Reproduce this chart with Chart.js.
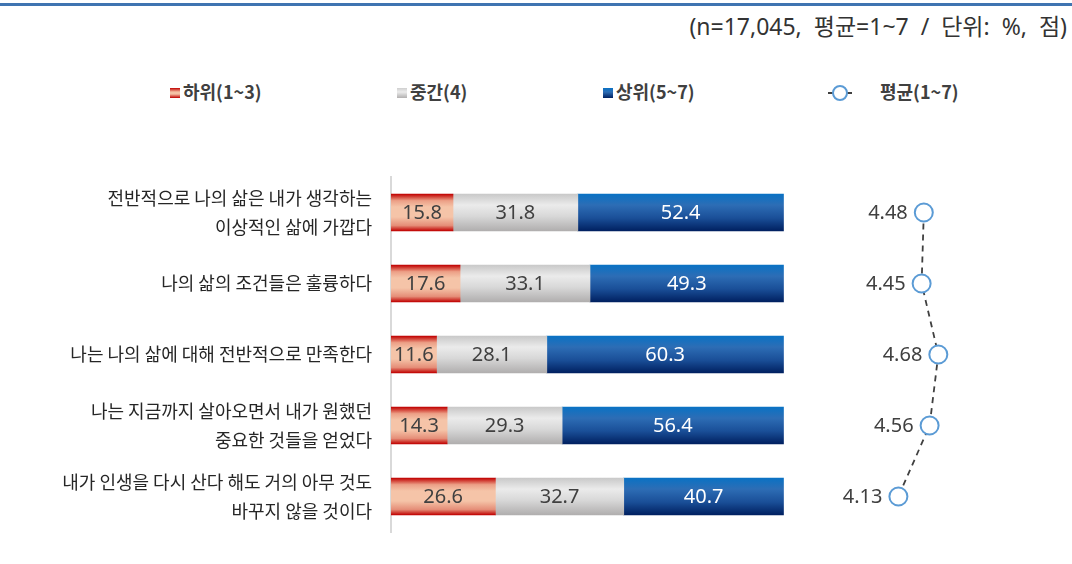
<!DOCTYPE html>
<html>
<head>
<meta charset="utf-8">
<script src="https://cdn.jsdelivr.net/npm/chart.js@4/dist/chart.umd.min.js"></script>
<style>
  body { margin:0; background:#fff; font-family:"Noto Sans CJK KR","Noto Sans",sans-serif; }
  #wrap { position:relative; width:1072px; height:564px; }
  #topline { position:absolute; left:0; top:3px; width:1072px; height:3px; background:#3f74b1; }
  #note { position:absolute; right:5px; top:9px; font-size:23px; line-height:34px; color:#333333; white-space:pre; word-spacing:6px;
          font-family:"Noto Sans","Noto Sans CJK KR",sans-serif; }
  .lg { position:absolute; top:78px; font-size:18px; font-weight:700; color:#404040; white-space:nowrap; }
  .sw { display:inline-block; width:10px; height:10px; margin-right:3px; vertical-align:1px; }
  canvas { position:absolute; left:0; top:0; }
</style>
</head>
<body>
<div id="wrap">
  <div id="topline"></div>
  <div id="note">(n=17,045, 평균=1~7 / 단위: %, 점)</div>
  <div class="lg" style="left:170px"><span class="sw" style="background:linear-gradient(#c00000,#f4c2a6 40%,#f4c2a6 60%,#c00000)"></span>하위(1~3)</div>
  <div class="lg" style="left:397px"><span class="sw" style="background:linear-gradient(#cfcfcf,#ececec 40%,#b2b0b0)"></span>중간(4)</div>
  <div class="lg" style="left:603px"><span class="sw" style="background:linear-gradient(#0a72c4,#2d6db5 40%,#002060)"></span>상위(5~7)</div>
  <div class="lg" style="left:828px"><svg width="24" height="18" style="vertical-align:-3px;margin-right:28px"><line x1="0" y1="9" x2="5" y2="9" stroke="#404040" stroke-width="2"/><line x1="19" y1="9" x2="24" y2="9" stroke="#404040" stroke-width="2"/><circle cx="12" cy="9" r="7" fill="#fff" stroke="#5b9bd5" stroke-width="2"/></svg>평균(1~7)</div>
  <canvas id="chart" width="1072" height="564"></canvas>
</div>
<script>
const categories = [
  ['전반적으로 나의 삶은 내가 생각하는', '이상적인 삶에 가깝다'],
  '나의 삶의 조건들은 훌륭하다',
  '나는 나의 삶에 대해 전반적으로 만족한다',
  ['나는 지금까지 살아오면서 내가 원했던', '중요한 것들을 얻었다'],
  ['내가 인생을 다시 산다 해도 거의 아무 것도', '바꾸지 않을 것이다']
];
const lowShare = [15.8, 17.6, 11.6, 14.3, 26.6];
const midShare = [31.8, 33.1, 28.1, 29.3, 32.7];
const highShare = [52.4, 49.3, 60.3, 56.4, 40.7];
const meanScore = [4.48, 4.45, 4.68, 4.56, 4.13];

// vertical gradient for each bar, built from the category scale
function barGradient(stops) {
  return function(ctx) {
    const chart = ctx.chart;
    const yScale = chart.scales.y;
    if (!chart.chartArea || !yScale || ctx.dataIndex === undefined) return stops[Math.floor(stops.length/2)][1];
    const yc = yScale.getPixelForValue(ctx.dataIndex);
    const g = chart.ctx.createLinearGradient(0, yc - 18.5, 0, yc + 18.5);
    stops.forEach(s => g.addColorStop(s[0], s[1]));
    return g;
  };
}
const redStops = [[0,'#c00000'],[0.18,'#ec9f86'],[0.35,'#f5c4a8'],[0.62,'#f5c4a8'],[0.85,'#e58e78'],[1,'#c00000']];
const greyStops = [[0,'#c9c9c9'],[0.3,'#ebebeb'],[0.6,'#d8d8d8'],[1,'#b0aeae']];
const blueStops = [[0,'#0a72c4'],[0.3,'#2d6db5'],[0.65,'#1a4f98'],[1,'#002060']];

const valueLabels = {
  id: 'valueLabels',
  afterDatasetsDraw(chart) {
    const ctx = chart.ctx;
    ctx.save();
    ctx.font = '20px "Noto Sans", sans-serif';
    ctx.textBaseline = 'middle';
    chart.data.datasets.forEach((ds, di) => {
      const meta = chart.getDatasetMeta(di);
      meta.data.forEach((el, i) => {
        if (ds.type === 'line') {
          ctx.fillStyle = '#404040';
          ctx.textAlign = 'right';
          ctx.fillText(ds.data[i].toFixed(2), el.x - 16, el.y + 1);
        } else {
          ctx.fillStyle = di === 2 ? '#ffffff' : '#404040';
          ctx.textAlign = 'center';
          ctx.fillText(ds.data[i].toFixed(1), (el.x + el.base) / 2, el.y + 1);
        }
      });
    });
    ctx.restore();
  }
};

new Chart(document.getElementById('chart').getContext('2d'), {
  type: 'bar',
  data: {
    labels: categories,
    datasets: [
      { label: '하위(1~3)', data: lowShare, backgroundColor: barGradient(redStops), barThickness: 37 },
      { label: '중간(4)', data: midShare, backgroundColor: barGradient(greyStops), barThickness: 37 },
      { label: '상위(5~7)', data: highShare, backgroundColor: barGradient(blueStops), barThickness: 37 },
      {
        type: 'line', label: '평균(1~7)', data: meanScore, xAxisID: 'x2', indexAxis: 'y',
        borderColor: '#404040', borderWidth: 1.8, borderDash: [6, 5], fill: false, tension: 0,
        pointRadius: 9, pointHoverRadius: 9, pointBorderColor: '#5b9bd5', pointBorderWidth: 2,
        pointBackgroundColor: '#ffffff'
      }
    ]
  },
  options: {
    indexAxis: 'y',
    responsive: false,
    animation: false,
    layout: { padding: { top: 177, bottom: 32, left: 0, right: 10 } },
    plugins: { legend: { display: false }, tooltip: { enabled: false } },
    scales: {
      // 0..100 spans 391..784 px; the rest of the area is left for the mean line
      x: { stacked: true, display: false, min: 0, max: 170.7 },
      x2: { display: false, min: -2.86, max: 6.37 },
      y: {
        stacked: true,
        grid: { display: false, drawTicks: false },
        border: { display: true, color: '#d9d9d9', width: 2 },
        ticks: { padding: 19, color: '#262626', font: { size: 18, family: '"Noto Sans CJK KR", sans-serif', lineHeight: 1.6 } },
        afterFit(axis) {
          axis.width = 391;
          axis.paddingTop = 0;
          axis.paddingBottom = 0;
        }
      }
    }
  },
  plugins: [valueLabels]
});
</script>
</body>
</html>
